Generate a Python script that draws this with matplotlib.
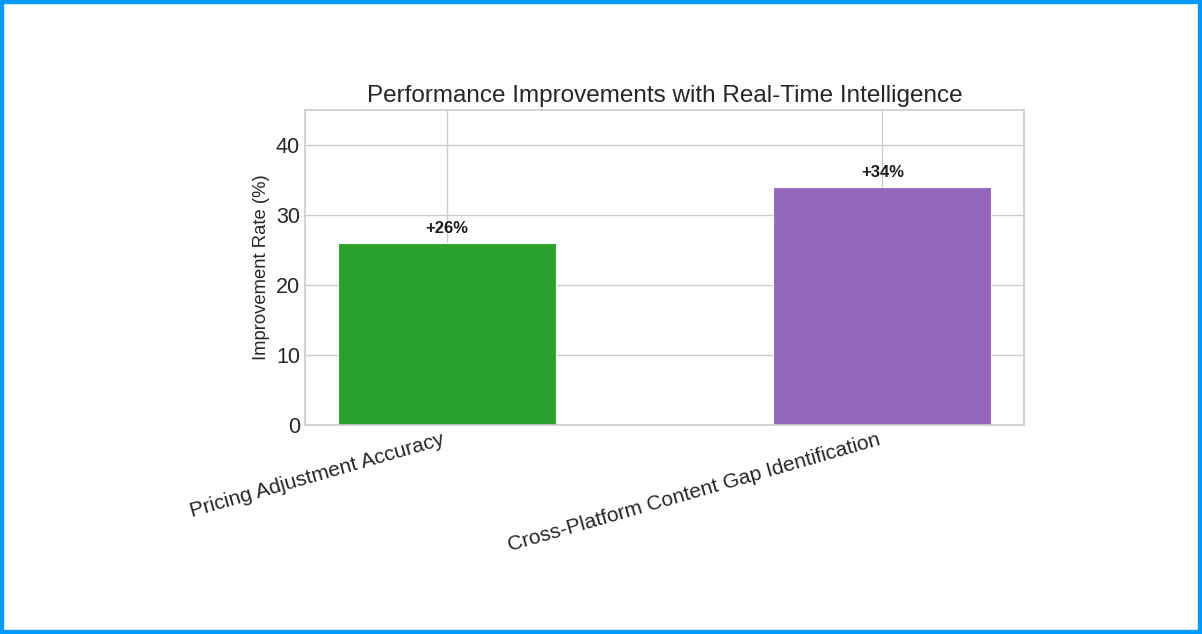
import matplotlib
matplotlib.use("Agg")
import matplotlib.pyplot as plt
from matplotlib.patches import Rectangle

# data
categories = ["Pricing Adjustment Accuracy", "Cross-Platform Content Gap Identification"]
improvement = [26, 34]
bar_colors = ["#2ca02c", "#9467bd"]

plt.style.use("seaborn-v0_8-whitegrid")
plt.rcParams["font.family"] = ["Liberation Sans", "DejaVu Sans"]

fig, ax = plt.subplots(figsize=(12.02, 6.34), dpi=100)
fig.subplots_adjust(left=0.2537, right=0.8519, top=0.8265, bottom=0.3297)

x = range(len(categories))
bars = ax.bar(x, improvement, width=0.5, color=bar_colors,
              edgecolor="white", linewidth=0.8)

for b, v in zip(bars, improvement):
    ax.text(b.get_x() + b.get_width() / 2, v + 1, f"+{v}%",
            ha="center", va="bottom", fontsize=12, fontweight="bold",
            color="#1a1a1a")

ax.set_ylim(0, 45)
ax.set_xticks(list(x))
ax.set_xticklabels(categories, rotation=16, ha="right", fontsize=15)
ax.tick_params(axis="y", labelsize=15.5)
ax.set_ylabel("Improvement Rate (%)", fontsize=13.3)
ax.set_title("Performance Improvements with Real-Time Intelligence", fontsize=17.5)

for s in ax.spines.values():
    s.set_visible(True)
    s.set_color("#cccccc")
    s.set_linewidth(1.2)
ax.grid(True, color="#cccccc", linewidth=1.0)
ax.set_axisbelow(True)

# blue frame round the picture
fig.patches.append(Rectangle((0, 0), 1, 1, transform=fig.transFigure,
                             fill=False, edgecolor="#0099ff", linewidth=6,
                             zorder=10))

fig.savefig("out.png", dpi=100)
